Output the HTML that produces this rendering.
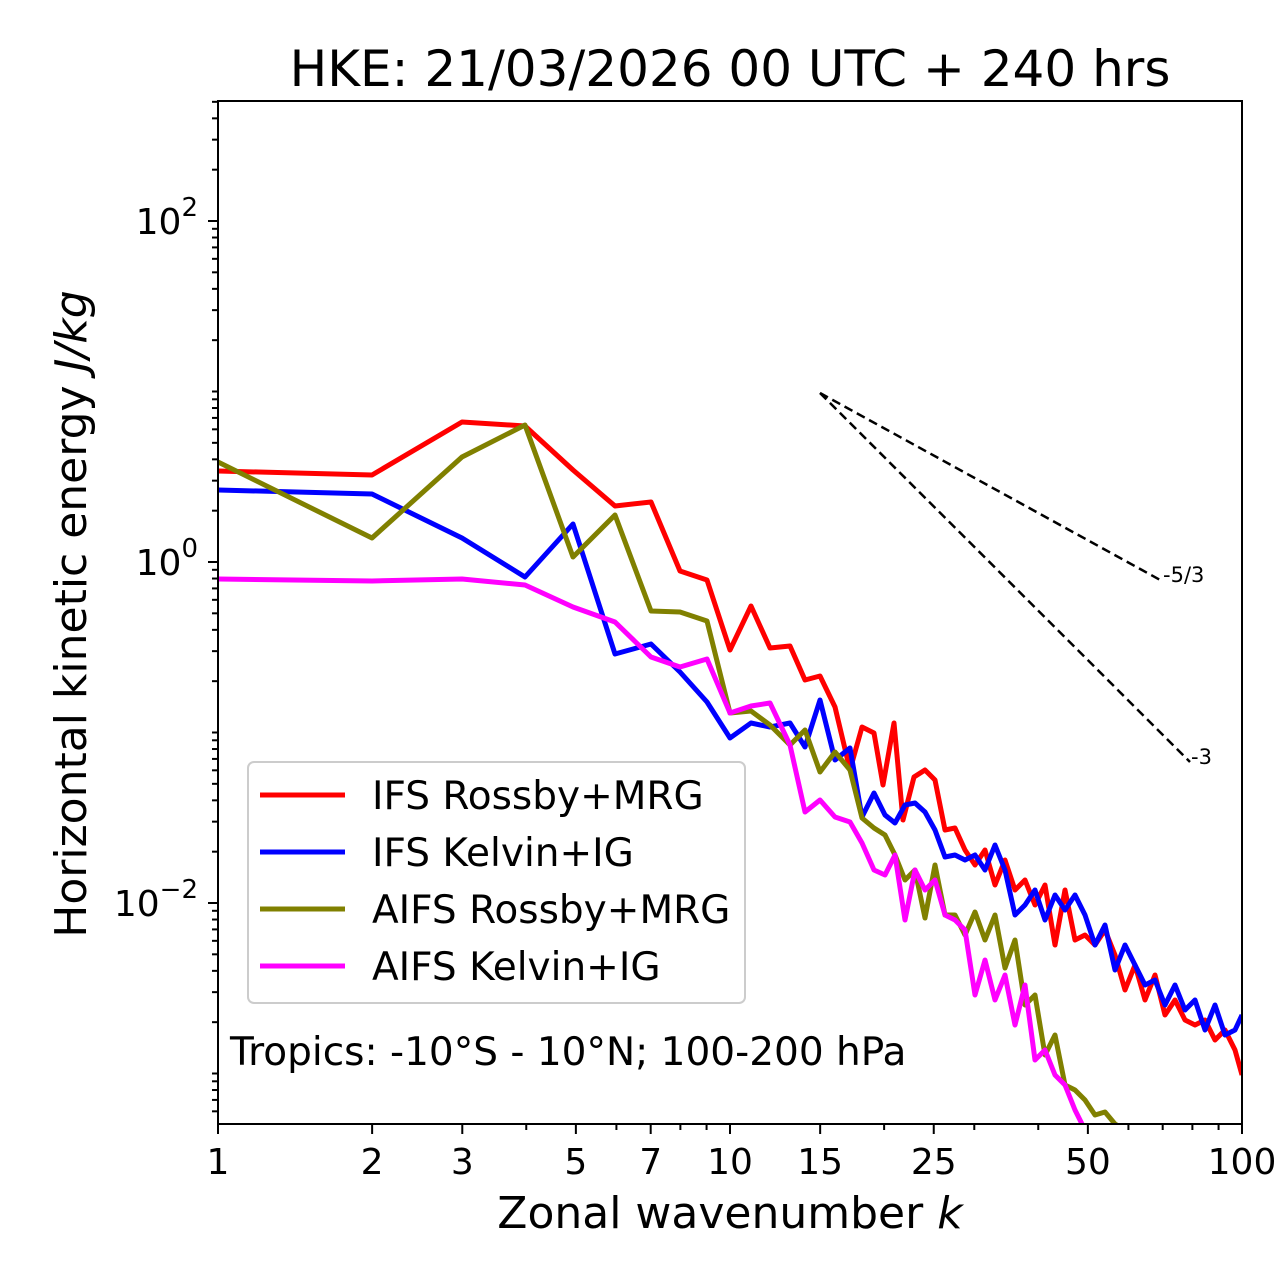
<!DOCTYPE html>
<html><head><meta charset="utf-8"><style>body{margin:0;background:#fff}svg{display:block}text{font-family:"DejaVu Sans","Liberation Sans",sans-serif}</style></head><body>
<svg width="1280" height="1288" viewBox="0 0 1280 1288">
<defs><clipPath id="c"><rect x="218" y="101" width="1024" height="1023"/></clipPath></defs>
<text x="730" y="86" font-size="50" text-anchor="middle">HKE: 21/03/2026 00 UTC + 240 hrs</text>
<g clip-path="url(#c)" fill="none" stroke-width="5" stroke-linejoin="round">
<polyline stroke="#ff0000" points="218,471 372,475 462,422 525,426 573,470 615,506 651,502 680,571 707,580 730,650 751,606 770,648 790,646 805,680 820,676 835,707 850,770 862,727 874,733 883,785 894,723 903,820 914,777 925,770 935,780 945,830 955,828 965,850 975,865 985,850 995,885 1005,860 1015,890 1025,880 1035,905 1045,885 1055,945 1065,890 1075,940 1085,935 1095,945 1105,930 1115,955 1125,990 1135,965 1145,1000 1155,975 1165,1015 1175,1000 1185,1020 1195,1025 1205,1020 1215,1040 1225,1030 1235,1050 1242,1075"/>
<polyline stroke="#0000ff" points="218,490 372,494 462,538 525,577 573,524 615,654 651,644 680,672 707,702 730,738 751,723 770,727 790,723 805,747 820,700 835,760 850,748 862,817 874,793 885,815 895,823 905,805 915,803 925,812 935,830 945,857 955,855 965,860 975,855 985,870 995,845 1005,870 1015,915 1025,905 1035,890 1045,920 1055,895 1065,910 1075,895 1085,915 1095,945 1105,925 1115,970 1125,945 1135,965 1145,985 1155,980 1165,1005 1175,985 1185,1010 1195,1000 1205,1030 1215,1005 1225,1035 1235,1030 1242,1015"/>
<polyline stroke="#808000" points="218,462 372,538 462,457 525,425 573,557 615,515 651,611 680,612 707,621 730,713 751,711 770,725 790,745 805,730 820,772 835,752 850,770 862,818 874,828 885,835 895,855 905,880 915,870 925,918 935,865 945,915 955,915 965,935 975,912 985,940 995,915 1005,968 1015,940 1025,1005 1035,995 1045,1055 1055,1035 1065,1085 1075,1090 1085,1100 1095,1115 1105,1112 1115,1124 1125,1130"/>
<polyline stroke="#ff00ff" points="218,579 372,581 462,579 525,585 573,607 615,622 651,657 680,667 707,659 730,713 751,706 770,703 790,745 805,812 820,800 835,817 850,822 862,843 874,870 885,875 895,855 905,920 915,870 925,890 935,880 945,915 955,920 965,930 975,995 985,960 995,1000 1005,975 1015,1025 1025,985 1035,1060 1045,1050 1055,1075 1065,1085 1075,1110 1085,1130"/>
</g>
<g stroke="#000" stroke-width="2.5" stroke-dasharray="9,5" fill="none">
<line x1="820" y1="393" x2="1162" y2="581"/><line x1="820" y1="393" x2="1190" y2="762"/>
</g>
<text x="1163" y="582" font-size="21">-5/3</text>
<text x="1191" y="764" font-size="21">-3</text>
<rect x="248" y="762" width="497" height="241" rx="6" fill="#fff" fill-opacity="0.8" stroke="#ccc" stroke-width="2"/>
<g stroke-width="5"><line x1="260" y1="795" x2="345" y2="795" stroke="#ff0000"/><line x1="260" y1="852" x2="345" y2="852" stroke="#0000ff"/><line x1="260" y1="909" x2="345" y2="909" stroke="#808000"/><line x1="260" y1="966" x2="345" y2="966" stroke="#ff00ff"/></g>
<g font-size="39"><text x="372" y="809">IFS Rossby+MRG</text><text x="372" y="866">IFS Kelvin+IG</text><text x="372" y="923">AIFS Rossby+MRG</text><text x="372" y="980">AIFS Kelvin+IG</text></g>
<text x="230" y="1065" font-size="39">Tropics: -10°S - 10°N; 100-200 hPa</text>
<rect x="218" y="101" width="1024" height="1023" fill="none" stroke="#000" stroke-width="2"/>
<g stroke="#000" stroke-width="2" id="ticks"></g>
<g font-size="36" text-anchor="middle" id="xl"></g>
<g font-size="36" text-anchor="end" id="yl"></g>
<text x="730" y="1228" font-size="44" text-anchor="middle">Zonal wavenumber <tspan font-style="italic">k</tspan></text>
<text transform="translate(86,614) rotate(-90)" font-size="44" text-anchor="middle">Horizontal kinetic energy <tspan font-style="italic">J/kg</tspan></text>
</svg>
<script>
var ns="http://www.w3.org/2000/svg",t=document.getElementById('ticks'),xl=document.getElementById('xl'),yl=document.getElementById('yl');
function L(x1,y1,x2,y2){var l=document.createElementNS(ns,'line');l.setAttribute('x1',x1);l.setAttribute('y1',y1);l.setAttribute('x2',x2);l.setAttribute('y2',y2);t.appendChild(l);}
function X(k){return 218+512*Math.log10(k);}function Y(v){return 562-170.5*Math.log10(v);}
var maj=[1,2,3,5,7,10,15,25,50,100];
for(var d=1;d<=10;d*=10)for(var i=1;i<10;i++){var k=i*d;if(k>100)break;if(maj.indexOf(k)<0)L(X(k),1124,X(k),1130);}
maj.forEach(function(k){var x=X(k);L(x,1124,x,1134);var s=document.createElementNS(ns,'text');s.setAttribute('x',x);s.setAttribute('y',1174);s.textContent=k;xl.appendChild(s);});
for(var e=-4;e<=2;e++){for(var i=1;i<10;i++){var y=Y(i*Math.pow(10,e));if(y<101||y>1124)continue;if(i==1&&e%2==0)L(218,y,208,y);else L(218,y,212,y);}
if(e%2==0&&e>=-2){var s=document.createElementNS(ns,'text');s.setAttribute('x',198);s.setAttribute('y',Y(Math.pow(10,e))+13);s.innerHTML='10<tspan dy="-18" font-size="26">'+(e<0?'\u2212'+(-e):e)+'</tspan>';yl.appendChild(s);}}
</script>
</body></html>
